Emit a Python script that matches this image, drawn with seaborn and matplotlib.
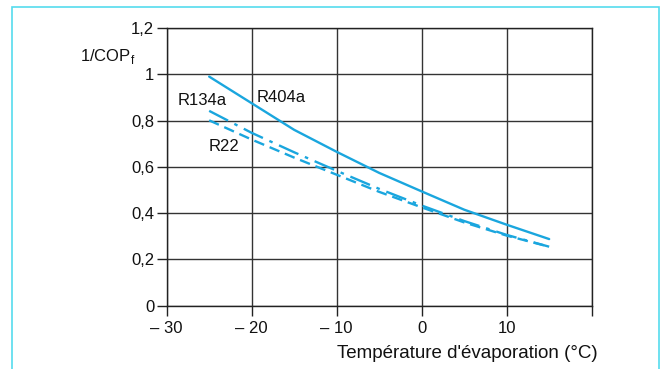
import matplotlib
matplotlib.use("Agg")
import matplotlib.pyplot as plt
import seaborn as sns
import pandas as pd
from matplotlib.patches import Rectangle

temps = [-25, -20, -15, -10, -5, 0, 5, 10, 15]
r404a = [0.99, 0.875, 0.76, 0.665, 0.574, 0.494, 0.415, 0.350, 0.288]
r134a = [0.842, 0.747, 0.663, 0.583, 0.505, 0.433, 0.366, 0.306, 0.255]
r22 = [0.801, 0.718, 0.640, 0.566, 0.492, 0.425, 0.360, 0.303, 0.255]

xticks = [-30, -20, -10, 0, 10, 20]
xticklabels = ["\u2013 30", "\u2013 20", "\u2013 10", "0", "10", ""]
yticks = [0, 0.2, 0.4, 0.6, 0.8, 1.0, 1.2]
yticklabels = ["0", "0,2", "0,4", "0,6", "0,8", "1", "1,2"]

sns.set_theme(style="white")
plt.rcParams['font.family'] = ['Liberation Sans', 'DejaVu Sans']

color = "#1aa6de"
txt = "#111111"
fig = plt.figure(figsize=(6.63, 3.69), dpi=100)
ax = fig.add_axes([0.2514, 0.1715, 0.641, 0.7526])

df = pd.DataFrame({"T": temps, "R404a": r404a, "R134a": r134a, "R22": r22})
sns.lineplot(data=df, x="T", y="R404a", ax=ax, color=color, lw=1.7, linestyle="-")
sns.lineplot(data=df, x="T", y="R134a", ax=ax, color=color, lw=1.7)
sns.lineplot(data=df, x="T", y="R22", ax=ax, color=color, lw=1.7)
lines = ax.get_lines()
lines[1].set_dashes([9, 3, 1.5, 3])
lines[2].set_dashes([4.5, 2.5])

ax.set_xlim(-30, 20)
ax.set_ylim(0, 1.2)
ax.set_xticks(xticks)
ax.set_xticklabels(xticklabels)
ax.set_yticks(yticks)
ax.set_yticklabels(yticklabels)
ax.grid(True, color="#333333", lw=1.0)
ax.set_axisbelow(True)
for s in ax.spines.values():
    s.set_color("#222222")
    s.set_linewidth(1.0)
ax.tick_params(axis="both", direction="out", length=7, width=1.0, color="#222222",
               labelsize=12, labelcolor=txt, pad=2, bottom=True, left=True)
ax.tick_params(axis="x", pad=4)
ax.set_xlabel("")
ax.set_ylabel("")

fig.text(80/663, 1-57/369, "1/COP$_\\mathregular{f}$", fontsize=12, va="center", ha="left", color=txt)
fig.text(598/663, 1-354/369, "Température d'évaporation (°C)", fontsize=13.5, va="center", ha="right", color=txt)

ax.text(-19.4, 0.90, "R404a", fontsize=12, va="center", ha="left", color=txt)
ax.text(-28.7, 0.885, "R134a", fontsize=12, va="center", ha="left", color=txt)
ax.text(-25.1, 0.69, "R22", fontsize=12, va="center", ha="left", color=txt)

fig.patches.append(Rectangle((12/663, -0.1), (659-12)/663, 1.1 - 7/369, transform=fig.transFigure,
                             fill=False, edgecolor="#55dcee", lw=1.2))

fig.savefig("out.png", dpi=100)
